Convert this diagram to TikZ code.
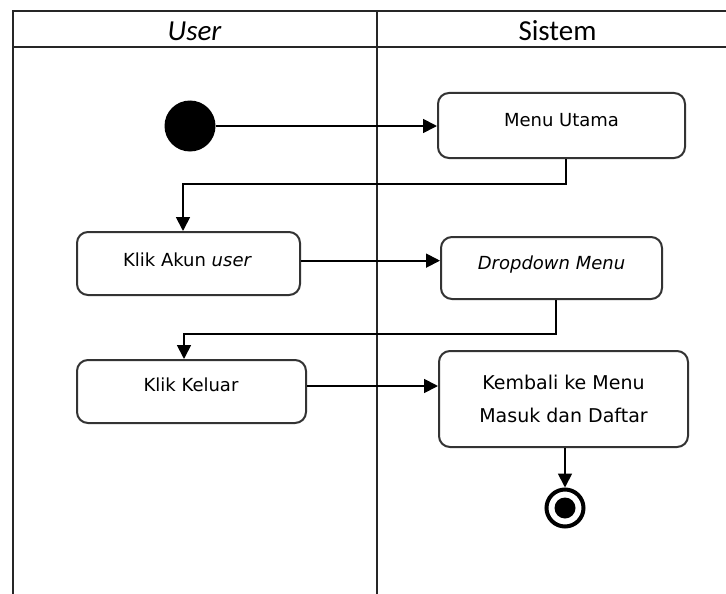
\documentclass[tikz,border=0pt]{standalone}
\usepackage{fontspec}
\setmainfont{DejaVu Sans}
\newfontfamily\headfont{Carlito}
\usetikzlibrary{arrows.meta}
\begin{document}
\begin{tikzpicture}[x=1pt,y=-1pt,
  lane/.style={draw=black!85, line width=1.8pt},
  actbox/.style={draw=black!80, line width=2pt, rounded corners=11pt, fill=white, inner sep=0pt},
  flow/.style={draw=black, line width=1.8pt, -{Triangle[length=14pt,width=14pt]}},
  lbl/.style={font=\fontsize{18}{22}\selectfont, text=black, inner sep=0pt, anchor=base},
  headlbl/.style={font=\headfont\fontsize{29}{32}\selectfont, text=black, inner sep=0pt, anchor=base}]
\useasboundingbox (0,0) rectangle (726,594);
\fill[white] (0,0) rectangle (726,594);

% swimlane frame
\draw[lane] (726,11) -- (13,11) -- (13,594);
\draw[lane] (13,47) -- (726,47);
\draw[lane] (377,11) -- (377,594);
\node[headlbl] (huser) at (194.5,41) {\itshape User};
\node[headlbl] (hsys) at (557.5,41) {Sistem};

% initial and final states
\node[circle, fill=black, minimum size=51pt, inner sep=0pt] (start) at (190,126) {};
\node[circle, draw=black, line width=4pt, minimum size=37pt, inner sep=0pt] (stop) at (565,508) {};
\fill[black] (stop.center) circle (10.5);

% activities
\node[actbox, minimum width=247pt, minimum height=65pt] (menu) at (561.5,125.5) {};
\node[lbl] (menut) at ([yshift=-1.3pt]menu.center) {Menu Utama};

\node[actbox, minimum width=223pt, minimum height=63pt] (akun) at (188.5,263.5) {};
\node[lbl] (akunt) at ([yshift=-2.5pt,xshift=-1pt]akun.center) {Klik Akun \textit{user}};

\node[actbox, minimum width=221pt, minimum height=62pt] (drop) at (551.5,268) {};
\node[lbl] (dropt) at ([yshift=-1.6pt]drop.center) {\textit{Dropdown Menu}};

\node[actbox, minimum width=229pt, minimum height=63pt] (keluar) at (191.5,391.5) {};
\node[lbl] (keluart) at ([xshift=-0.5pt]keluar.center) {Klik Keluar};

\node[actbox, minimum width=249pt, minimum height=96pt] (kembali) at (563.5,399) {};
\node[lbl, anchor=center, align=center, font=\fontsize{19}{32.5}\selectfont] (kembalit) at (kembali.center) {Kembali ke Menu\\Masuk dan Daftar};

% routing points
\coordinate (r1) at (183,184);
\coordinate (r2) at (184,334);

% control flow
\draw[flow] (start.east) -- (start.east -| menu.west);
\draw[flow] ([xshift=4.5pt]menu.south) -- ([xshift=4.5pt]menu.south |- r1) -| ([xshift=-5.5pt]akun.north);
\draw[flow] (akun.east |- dropt) ++(0,-4) -- ([yshift=4pt]drop.west |- dropt);
\draw[flow] ([xshift=4.5pt]drop.south) -- ([xshift=4.5pt]drop.south |- r2) -| ([xshift=-7.5pt]keluar.north);
\draw[flow] ([yshift=5.5pt]keluar.east) -- ([yshift=5.5pt]keluar.east -| kembali.west);
\draw[flow] ([xshift=1.5pt]kembali.south) -- (stop.north);
\end{tikzpicture}
\end{document}
